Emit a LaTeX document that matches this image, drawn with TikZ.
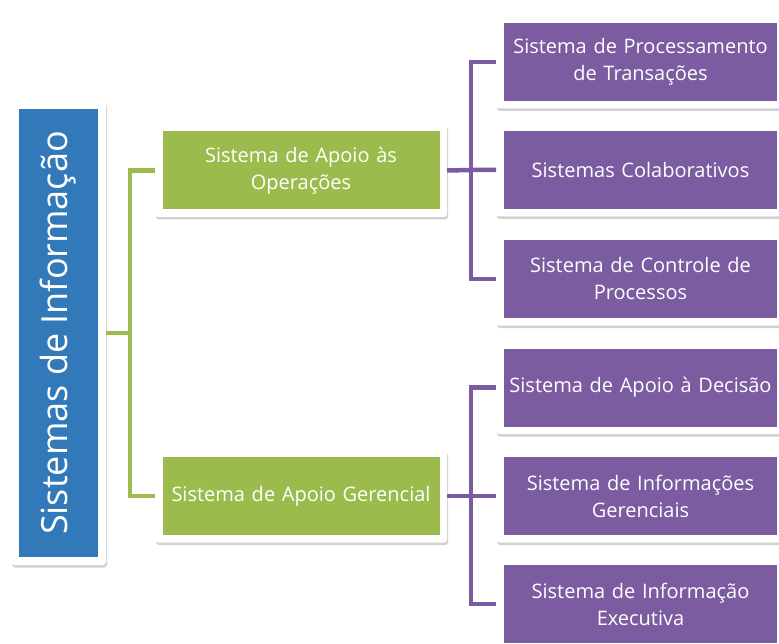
\documentclass[tikz,border=0pt]{standalone}
\usepackage{fontspec}
\setmainfont{Open Sans}
\usetikzlibrary{shadows}
\definecolor{sblue}{HTML}{3279BA}
\definecolor{sgreen}{HTML}{9BBB4C}
\definecolor{spurple}{HTML}{7B5CA0}
\tikzset{
  frm/.style={fill=white, rounded corners=3pt, inner sep=0pt, outer sep=0pt,
    drop shadow={shadow xshift=1pt, shadow yshift=-2.5pt, opacity=0.4, fill=black!45}},
  boxtxt/.style={inner sep=0pt, outer sep=0pt, text=white, align=center,
    font=\fontsize{20}{27}\selectfont},
  gfill/.style={boxtxt, fill=sgreen, minimum width=277pt, minimum height=78pt, text width=272pt},
  pfill/.style={boxtxt, fill=spurple, minimum width=273pt, minimum height=78pt, text width=272pt},
  gframe/.style={frm, minimum width=292pt, minimum height=93pt},
  pframe/.style={frm, minimum width=289pt, minimum height=93pt},
  gline/.style={draw=sgreen, line width=4.5pt},
  pline/.style={draw=spurple, line width=4.5pt}
}
\begin{document}
\begin{tikzpicture}[x=1pt,y=-1pt]
\useasboundingbox (0,0) rectangle (779,644);
\clip (0,0) rectangle (779,644);

\coordinate (gj) at (130,333);
\coordinate (pj1) at (471,170);
\coordinate (pj2) at (471,496);

% blue root
\node[frm, minimum width=95pt, minimum height=464pt] (bf) at (58.5,333) {};
\node[boxtxt, fill=sblue, rotate=90, minimum width=448pt, minimum height=79pt,
      font=\fontsize{36}{40}\selectfont] (b) at (58.5,333) {Sistemas de Informação};

% green
\node[gframe] (g1f) at (301,170.5) {};
\node[gfill] (g1) at (301,170.5) {Sistema de Apoio às\\Operações};
\node[gframe] (g2f) at (301,496) {};
\node[gfill] (g2) at (301,496) {Sistema de Apoio Gerencial};

% purple
\node[pframe] (p1f) at (640.5,62) {};
\node[pfill] (p1) at (640.5,62) {Sistema de Processamento\\de Transações};
\node[pframe] (p2f) at (640.5,170) {};
\node[pfill] (p2) at (640.5,170) {Sistemas Colaborativos};
\node[pframe] (p3f) at (640.5,279) {};
\node[pfill] (p3) at (640.5,279) {Sistema de Controle de\\Processos};
\node[pframe] (p4f) at (640.5,387.5) {};
\node[pfill] (p4) at (640.5,387.5) {Sistema de Apoio à Decisão};
\node[pframe] (p5f) at (640.5,496) {};
\node[pfill] (p5) at (640.5,496) {Sistema de Informações\\Gerenciais};
\node[pframe] (p6f) at (640.5,604) {};
\node[pfill] (p6) at (640.5,604) {Sistema de Informação\\Executiva};

\draw[gline] (bf.east) -- (gj);
\draw[gline] (g1f.west) -| (gj) |- (g2f.west);
\draw[pline] (g1f.east) -- (pj1) -- (p2f.west);
\draw[pline] (p1f.west) -| (pj1) |- (p3f.west);
\draw[pline] (g2f.east) -- (pj2) -- (p5f.west);
\draw[pline] (p4f.west) -| (pj2) |- (p6f.west);
\end{tikzpicture}
\end{document}
